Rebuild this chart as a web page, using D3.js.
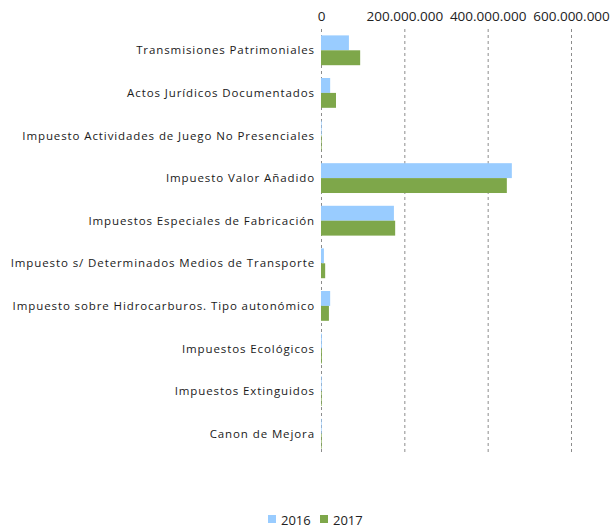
<!DOCTYPE html>
<html><head><meta charset="utf-8">
<script src="https://cdn.jsdelivr.net/npm/d3@7"></script>
<style>body{margin:0;background:#fff}svg{display:block}</style>
</head><body>
<svg id="c" width="611" height="532"></svg>
<script>
const categories = [
  "Transmisiones Patrimoniales",
  "Actos Jurídicos Documentados",
  "Impuesto Actividades de Juego No Presenciales",
  "Impuesto Valor Añadido",
  "Impuestos Especiales de Fabricación",
  "Impuesto s/ Determinados Medios de Transporte",
  "Impuesto sobre Hidrocarburos. Tipo autonómico",
  "Impuestos Ecológicos",
  "Impuestos Extinguidos",
  "Canon de Mejora"
];
const series = ["2016", "2017"];
const values2016 = [67000000, 22000000, 1500000, 458000000, 175000000, 7000000, 22000000, 2000000, 1500000, 1500000];
const values2017 = [94000000, 36000000, 1500000, 446000000, 178000000, 10000000, 19000000, 2000000, 1500000, 1500000];
const tickValues = [0, 200000000, 400000000, 600000000];
const colors = ["#99CCFF", "#7EA74A"];

const svg = d3.select("#c");
const pLeft = 321, pRight = 571, pTop = 29, pBottom = 455;
const x = d3.scaleLinear().domain([0, 600000000]).range([pLeft, pRight]);
const y = d3.scaleBand().domain(categories).range([pTop, pBottom]).paddingInner(0.3).paddingOuter(0.15);
const y1 = d3.scaleBand().domain(series).range([0, y.bandwidth()]);

const fmt = v => d3.format(",")(v).replace(/,/g, ".");

// gridlines
svg.append("g").selectAll("line").data(tickValues).join("line")
  .attr("x1", d => x(d) + 0.5).attr("x2", d => x(d) + 0.5)
  .attr("y1", pTop).attr("y2", pBottom)
  .attr("stroke", "#8c8c8c").attr("stroke-width", 1).attr("stroke-dasharray", "3,3");

// axis at top
const ax = svg.append("g").attr("transform", `translate(0,${pTop})`)
  .call(d3.axisTop(x).tickValues(tickValues).tickFormat(fmt).tickSize(0).tickPadding(8));
ax.select(".domain").remove();
ax.selectAll("text").attr("font-family", "'Open Sans', sans-serif").attr("font-size", 13.5).attr("fill", "#222");

const data = [values2016, values2017];
series.forEach((s, si) => {
  svg.append("g").selectAll("rect").data(categories).join("rect")
    .attr("x", x(0))
    .attr("y", (d) => y(d) + y1(s))
    .attr("width", (d, i) => Math.max(0, x(data[si][i]) - x(0)))
    .attr("height", y1.bandwidth())
    .attr("fill", colors[si]);
});

// category labels
svg.append("g").selectAll("text").data(categories).join("text")
  .attr("x", 315).attr("y", d => y(d) + y.bandwidth() / 2)
  .attr("dy", "0.35em").attr("text-anchor", "end")
  .attr("font-family", "'Open Sans', sans-serif").attr("font-size", 11.5)
  .attr("letter-spacing", "0.9px")
  .attr("fill", "#1a1a1a").text(d => d);

// legend
const lg = svg.append("g");
const items = [{s: "2016", x: 268}, {s: "2017", x: 320}];
items.forEach((it, i) => {
  lg.append("rect").attr("x", it.x).attr("y", 515).attr("width", 8).attr("height", 8).attr("fill", colors[i]);
  lg.append("text").attr("x", it.x + 13).attr("y", 520).attr("dy", "0.35em")
    .attr("font-family", "'Open Sans', sans-serif").attr("font-size", 13).attr("fill", "#222").text(it.s);
});
</script>
</body></html>
